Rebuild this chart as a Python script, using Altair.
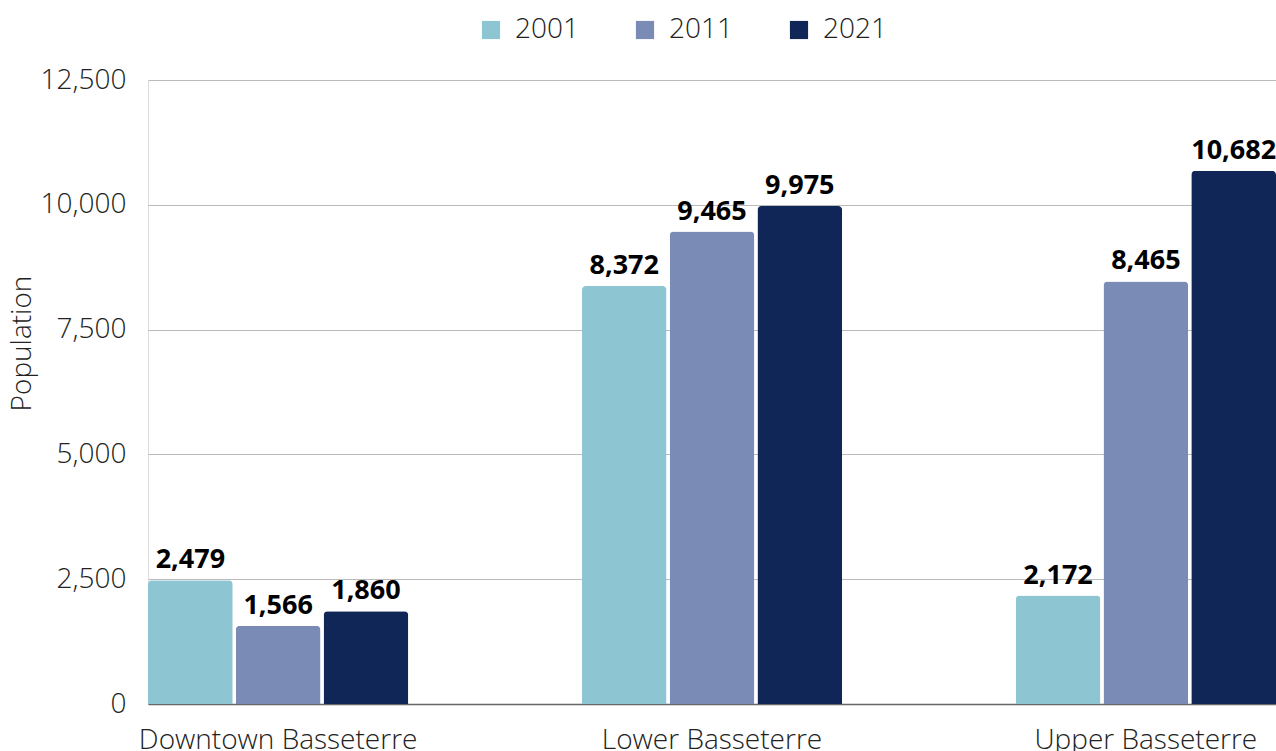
import altair as alt
import pandas as pd

# Population by area and census year
areas = ["Downtown Basseterre", "Lower Basseterre", "Upper Basseterre"]
years = ["2001", "2011", "2021"]
pop_2001 = [2479, 8372, 2172]
pop_2011 = [1566, 9465, 8465]
pop_2021 = [1860, 9975, 10682]
colors = ["#8DC6D2", "#7A8BB5", "#0F2657"]
y_ticks = [0, 2500, 5000, 7500, 10000, 12500]

rows = []
for year, series in zip(years, [pop_2001, pop_2011, pop_2021]):
    for area, v in zip(areas, series):
        rows.append({"Area": area, "Year": year, "Population": v})
df = pd.DataFrame(rows)

FONT = "Open Sans"
TEXT = "#222222"

x_enc = alt.X(
    "Area:N",
    sort=areas,
    scale=alt.Scale(paddingInner=0.4, paddingOuter=0),
    axis=alt.Axis(
        title=None, labelAngle=0, labelFontSize=28, labelFont=FONT,
        labelFontWeight=300, labelColor=TEXT, labelPadding=22, labelLimit=0,
        ticks=False, domain=True, domainColor="#666666", domainWidth=1.5,
    ),
)
xoff = alt.XOffset("Year:N", sort=years, scale=alt.Scale(paddingInner=0.035, paddingOuter=0))
y_enc = alt.Y(
    "Population:Q",
    scale=alt.Scale(domain=[0, 12500], nice=False),
    axis=alt.Axis(
        values=y_ticks, format=",.0f",
        title="Population", titleFont=FONT, titleFontSize=28,
        titleFontWeight=300, titleColor=TEXT, titleAngle=-90,
        titleAlign="center", titleBaseline="middle", titleX=-126, titleY=263,
        labelFontSize=28, labelFont=FONT, labelFontWeight=300,
        labelColor=TEXT, labelPadding=22, ticks=False, domain=False,
        gridColor="#BBBBBB", gridWidth=1.2,
    ),
)

bars = alt.Chart(df).mark_bar(cornerRadiusTopLeft=4, cornerRadiusTopRight=4).encode(
    x=x_enc,
    xOffset=xoff,
    y=y_enc,
    color=alt.Color(
        "Year:N", sort=years,
        scale=alt.Scale(domain=years, range=colors),
        legend=alt.Legend(
            title=None, orient="none", direction="horizontal", columns=3,
            legendX=329, legendY=-64, symbolType="square", symbolSize=330,
            symbolStrokeWidth=0, labelFontSize=28, labelFont=FONT,
            labelFontWeight=300, labelColor=TEXT, labelOffset=10,
            columnPadding=52,
        ),
    ),
)

labels = alt.Chart(df).mark_text(
    font=FONT, fontSize=27, fontWeight="bold", color="#000000",
    baseline="alphabetic", dy=-12,
).encode(
    x=alt.X("Area:N", sort=areas),
    xOffset=alt.XOffset("Year:N", sort=years),
    y="Population:Q",
    text=alt.Text("Population:Q", format=","),
)

chart = (
    alt.layer(bars, labels)
    .properties(
        width=1128, height=624,
        autosize=alt.AutoSizeParams(type="none"),
        padding={"left": 148, "top": 80, "right": 0, "bottom": 47},
    )
    .configure_view(stroke=None)
    .configure(background="white")
)

chart.save("out.html", embed_options={"renderer": "svg", "actions": False})
